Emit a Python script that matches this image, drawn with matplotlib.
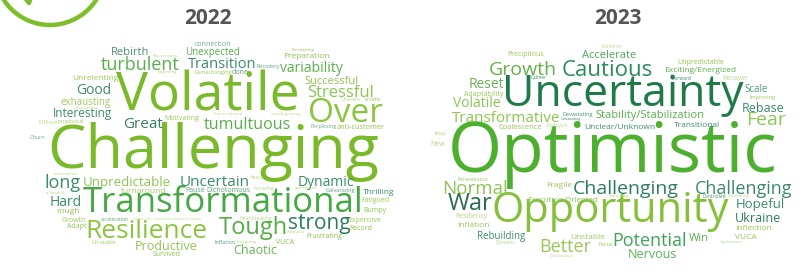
import matplotlib.pyplot as plt
from matplotlib.patches import Circle

plt.rcParams['font.family'] = ['Open Sans', 'DejaVu Sans']

# word clouds of how people described each year; weight = relative frequency
words_2022 = [
    "Challenging", "Volatile", "Transformational", "Resilience", "Tough", "strong",
    "Over", "Stressful", "turbulent", "Transition", "variability", "tumultuous",
    "Great", "Good", "Uncertain", "Dynamic", "long", "Hard",
    "Unpredictable", "Chaotic", "Productive", "Rebirth", "Unexpected", "Successful",
    "Interesting", "exhausting", "Unrelenting", "Preparation", "anti-customer", "Thrilling",
    "turnaround", "rough", "Fatigued", "Bumpy", "Expensive", "Record",
    "Frustrating", "VUCA", "Survived", "Growth", "Adapt", "Pause",
    "Dichotomous", "connection", "Motivating", "Gamechanging", "done", "Recovery",
    "Galvanizing", "Perplexing", "Un-stable", "Inflation", "Churn", "Difficult",
    "paradoxical", "Uneven", "erratic", "Heavy", "Amazing", "Heartbreaking",
    "acceleration", "Analytics", "Energizing", "recompense", "a handful", "Devastating",
    "neutral network crisis", "beginning", "Rejuvenation", "Disruption", "Unprecedented", "steady growing",
    "anticipation", "it matters: war, inflation and a cold year for humanity",
]
weights_2022 = [
    44, 38.5, 25, 19, 17, 15,
    24, 12, 13, 10.5, 10, 11.5,
    11, 10, 11, 10, 13, 10,
    9.5, 9, 9, 8, 7, 8,
    8.5, 7, 6, 6, 5.2, 6,
    6, 6, 5, 5, 5, 5,
    5, 5, 5, 5, 5, 5,
    5, 5, 5, 4, 5, 4,
    4, 3.8, 4, 4, 4, 4,
    3.5, 4, 4, 3.5, 3.5, 3.5,
    3.5, 3, 3, 3, 3, 3,
    3, 3, 3, 3, 3, 3,
    3, 2,
]

words_2023 = [
    "Optimistic", "Uncertainty", "Opportunity", "Cautious", "Growth", "Challenging",
    "Challenging", "War", "Normal", "Potential", "Better", "Nervous",
    "Fear", "Hopeful", "Ukraine", "Transformative", "Volatile", "Reset",
    "Rebase", "Scale", "Stability/Stabilization", "Accelerate", "Exciting/Energized", "Unpredictable",
    "Unclear/Unknown", "Transitional", "Win", "VUCA", "Inflection", "Rebuilding",
    "Unstable", "Fragile", "Execution-Oriented", "Inflation", "Resiliency", "Recover",
    "Precipitous", "Adaptability", "Coalescence", "Pullback", "Improving", "Devastating",
    "Focus", "Setup", "New", "Perseverance", "Dynamic", "Controlled",
    "Fascinating", "Disturbing", "Exploratory", "Obsequious", "Cathartic", "Calmer",
    "Forward", "Outstanding",
]
weights_2023 = [
    50, 32, 30, 16, 14, 14,
    13, 17, 13.5, 13, 13, 9,
    14, 9.5, 9, 11, 10, 10,
    9, 7, 8, 8, 6, 5,
    6, 6, 8, 6, 6, 7,
    6, 6, 5.7, 6, 5, 5,
    5, 5, 5.5, 4, 4, 4,
    4, 3.5, 5, 3.5, 3.5, 3.5,
    3, 3, 3, 3, 3.5, 3.5,
    3.5, 2.5,
]

# layout: word centres in pixels (origin top-left) and colours
LIME, LGREEN, PALE = '#7AB929', '#8DC454', '#B5D68A'
GREEN, TEAL, SOFT = '#5BAE4E', '#3D8B6B', '#5DA07E'

pos_2022 = [
    (213, 146), (208, 91), (223, 200), (146, 228), (253, 226), (319, 222),
    (345, 110), (341, 91), (140, 63), (222, 63), (311, 67), (247, 123),
    (143, 122), (94, 89), (215, 180), (326, 181), (63, 181), (66, 201),
    (127, 181), (255, 250), (166, 245), (130, 51), (213, 51), (332, 80),
    (82, 113), (86, 101), (95, 77), (306, 55), (361, 126), (379, 191),
    (144, 190), (68, 210), (375, 200), (375, 209), (365, 219), (361, 227),
    (324, 235), (285, 242), (167, 254), (74, 220), (77, 226), (195, 190),
    (228, 190), (213, 44), (182, 118), (213, 72), (240, 72), (268, 66),
    (340, 190), (324, 126), (104, 242), (225, 242), (38, 137), (48, 122),
    (71, 121), (350, 99), (373, 99), (257, 177), (264, 188), (256, 218),
    (115, 219), (296, 232), (247, 241), (66, 174), (55, 192), (303, 49),
    (311, 71), (167, 72), (165, 56), (85, 108), (228, 113), (286, 114),
    (306, 188), (167, 219),
]
col_2022 = [
    LIME, LIME, '#46A843', '#8BC53F', '#55AD45', '#2E7B5E',
    '#8BC53F', LGREEN, GREEN, TEAL, GREEN, GREEN,
    '#3B7F63', TEAL, TEAL, TEAL, TEAL, TEAL,
    LGREEN, '#66B253', LGREEN, '#4D8F70', GREEN, LGREEN,
    TEAL, '#9CCB5A', '#9CCB5A', LGREEN, LGREEN, TEAL,
    '#9CCB5A', LGREEN, '#9CCB5A', LGREEN, '#9CCB5A', LGREEN,
    LGREEN, LGREEN, LGREEN, '#9CCB5A', LGREEN, SOFT,
    SOFT, '#6FA88A', '#9CCB5A', '#9CCB5A', SOFT, SOFT,
    SOFT, '#6FA88A', '#9CCB5A', SOFT, '#6FA88A', PALE,
    '#9CCB5A', PALE, LGREEN, PALE, PALE, PALE,
    SOFT, PALE, PALE, PALE, PALE, LGREEN,
    PALE, PALE, PALE, PALE, PALE, PALE,
    PALE, PALE,
]

pos_2023 = [
    (612, 147), (623, 90), (610, 207), (607, 68), (523, 68), (626, 187),
    (744, 187), (470, 201), (475, 187), (649, 240), (565, 245), (652, 253),
    (766, 118), (760, 203), (758, 218), (506, 116), (477, 102), (486, 83),
    (763, 107), (756, 89), (650, 114), (609, 54), (700, 69), (701, 61),
    (620, 126), (697, 124), (699, 237), (746, 236), (753, 227), (501, 236),
    (588, 236), (559, 184), (563, 199), (473, 224), (471, 215), (735, 77),
    (526, 53), (484, 93), (520, 126), (557, 125), (762, 97), (578, 114),
    (606, 244), (440, 133), (438, 144), (473, 179), (505, 242), (715, 196),
    (738, 196), (619, 196), (732, 241), (562, 256), (612, 46), (539, 77),
    (682, 78), (571, 119),
]
col_2023 = [
    '#4DAF2E', '#1E7B48', '#86C03B', '#2F8A5A', '#64B04B', '#2F7E5C',
    '#3E8A6A', '#2A6E52', LGREEN, '#3FA35A', '#9BC65A', '#5CB158',
    LGREEN, TEAL, '#2E7D5B', LGREEN, LGREEN, '#6AB055',
    TEAL, '#4E9A78', GREEN, '#4FA85A', GREEN, LGREEN,
    TEAL, TEAL, GREEN, '#9BC65A', '#9BC65A', TEAL,
    '#9BC65A', '#9BC65A', LGREEN, '#9BC65A', PALE, PALE,
    '#9BC65A', '#9BC65A', '#9BC65A', PALE, '#9BC65A', TEAL,
    '#9BC65A', PALE, PALE, '#9BC65A', PALE, TEAL,
    PALE, PALE, PALE, PALE, PALE, TEAL,
    TEAL, TEAL,
]

fig = plt.figure(figsize=(8.07, 2.76), dpi=100)
ax = fig.add_axes([0, 0, 1, 1])
ax.set_xlim(0, 807)
ax.set_ylim(276, 0)
ax.axis('off')

# logo peeking in at the top-left corner
ax.add_patch(Circle((50, -30), 55, fill=False, ec='#7DBE2A', lw=3.2))
ax.plot([22, 29, 40], [-6, 3, -30], color='#7DBE2A', lw=3.2, solid_capstyle='round')

ax.text(208, 19, "2022", ha='center', va='center', fontsize=15,
        fontweight='bold', color='#555555')
ax.text(618, 19, "2023", ha='center', va='center', fontsize=15,
        fontweight='bold', color='#555555')


def draw_cloud(words, weights, pos, cols):
    for w, s, (x, y), c in zip(words, weights, pos, cols):
        # centre given on cap height; cap height in px ~ font size in pt at 100 dpi
        ax.text(x, y + 0.5 * s, w, ha='center', va='baseline',
                fontsize=s, color=c)


draw_cloud(words_2022, weights_2022, pos_2022, col_2022)
draw_cloud(words_2023, weights_2023, pos_2023, col_2023)

fig.savefig('out.png', dpi=100)
